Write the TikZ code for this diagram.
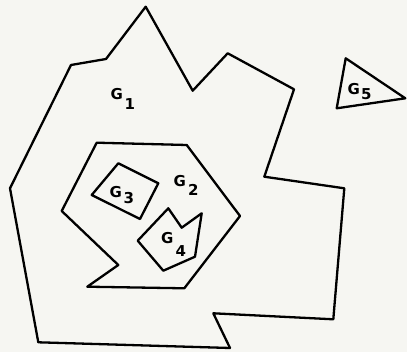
\documentclass[tikz,border=0pt]{standalone}
\usepackage{fontspec}
\setsansfont{DejaVu Sans}
\begin{document}
\begin{tikzpicture}[x=1pt,y=-1pt,
  region/.style={draw=black,line width=2.3pt,line join=round},
  lbl/.style={font=\sffamily\bfseries\fontsize{15}{17}\selectfont,inner sep=0pt,anchor=base west}]
\useasboundingbox (0,0) rectangle (407,352);
\fill[fill={rgb,255:red,246;green,246;blue,242}] (0,0) rectangle (407,352);
% G1
\draw[region] (145.7,6.7) -- (192.7,90.7) -- (227.7,53.3) -- (294,89.3) -- (264.3,176.7)
  -- (344.3,188.3) -- (333.3,319.3) -- (213.3,313.3) -- (230,348) -- (38.3,342.3)
  -- (10,188.3) -- (71,65) -- (106,59) -- cycle;
% G2
\draw[region] (96.7,142.7) -- (186.7,145) -- (240,216) -- (184.3,288.3) -- (87.3,286.7)
  -- (118.3,265) -- (61.7,211) -- cycle;
% G3
\draw[region] (118.3,163.3) -- (158.3,183.3) -- (140,219) -- (91.7,195) -- cycle;
% G4
\draw[region] (168.3,208.3) -- (181.7,227.7) -- (201.7,213.3) -- (195,256.7)
  -- (163.3,270.7) -- (137.7,240.7) -- cycle;
% G5
\draw[region] (345.7,58.3) -- (405.3,98.3) -- (336.7,108.3) -- cycle;
% labels
\node[lbl] (l1) at (110.5,99.5) {G\hspace{1.5pt}\raisebox{-10.5pt}{1}};
\node[lbl] (l2) at (173.5,187) {G\hspace{2pt}\raisebox{-8.3pt}{2}};
\node[lbl] (l3) at (109.5,197.5) {G\hspace{1.5pt}\raisebox{-6pt}{3}};
\node[lbl] (l4) at (161,243.5) {G\hspace{2pt}\raisebox{-13pt}{4}};
\node[lbl] (l5) at (347.5,95) {G\hspace{1pt}\raisebox{-5pt}{5}};
\end{tikzpicture}
\end{document}
